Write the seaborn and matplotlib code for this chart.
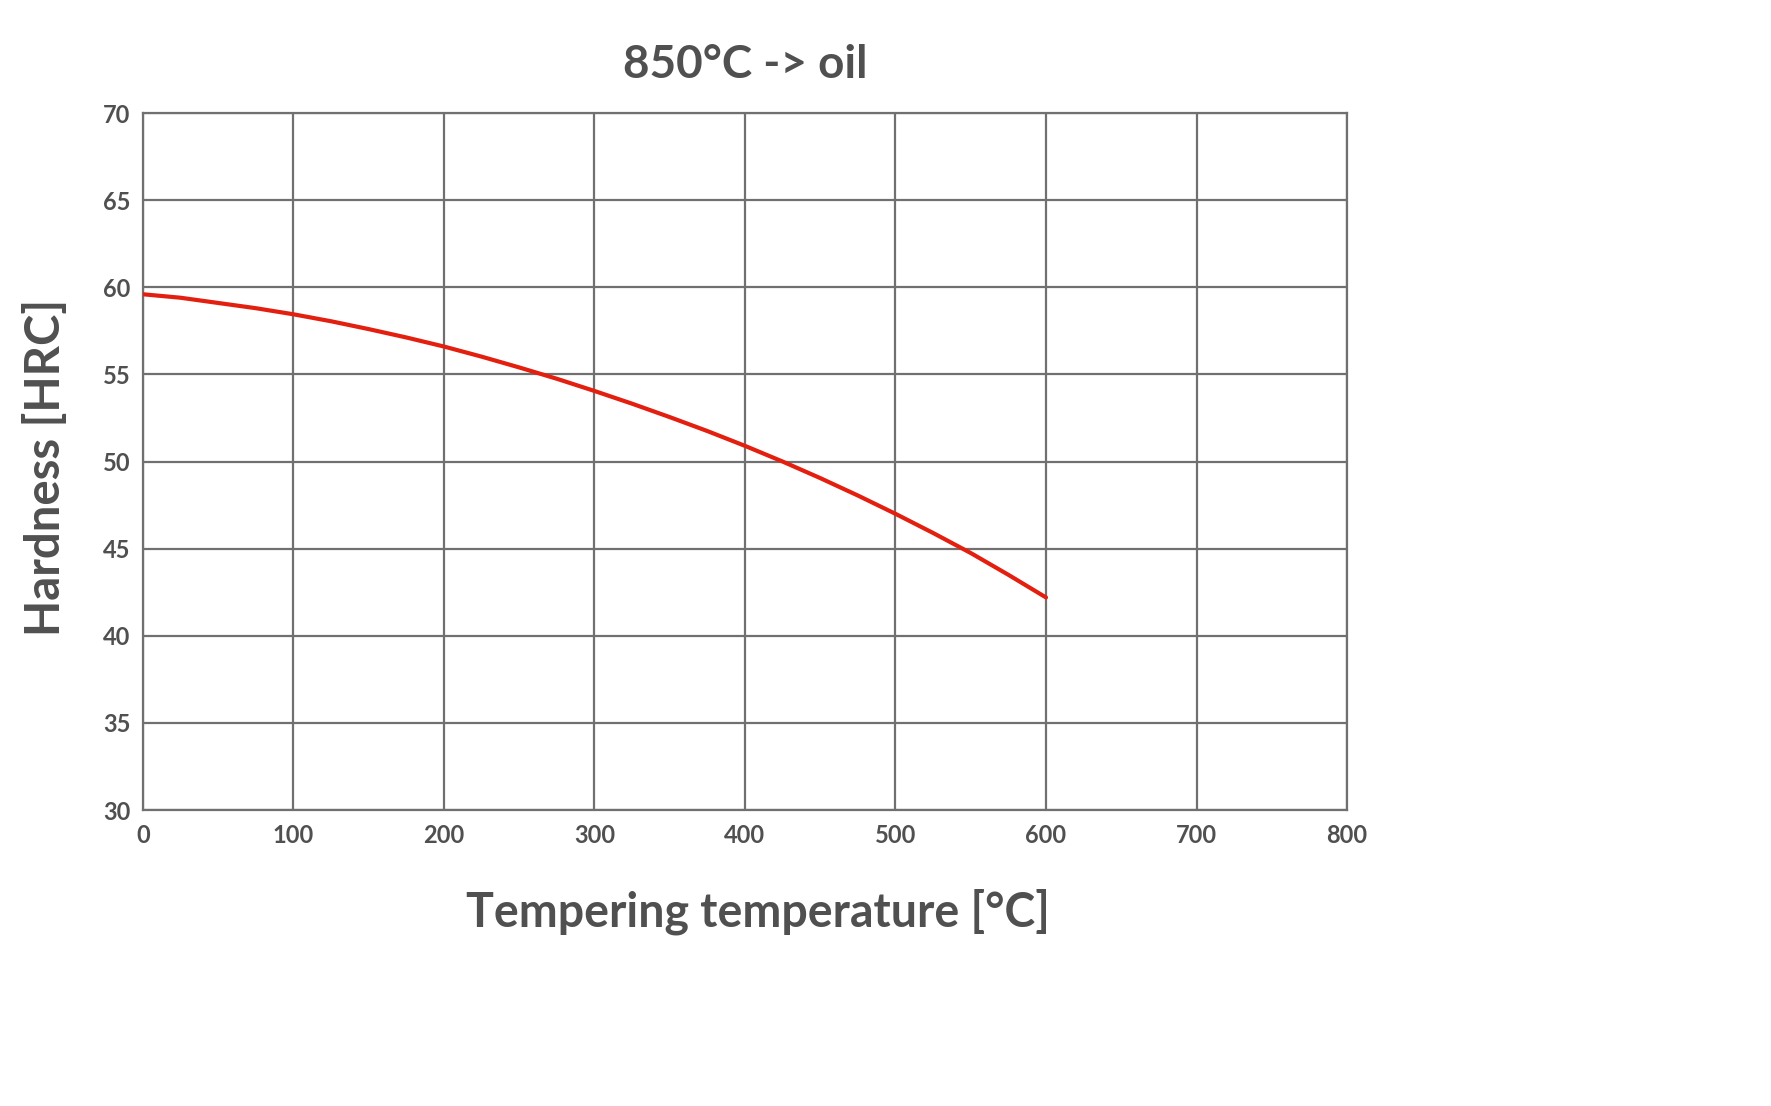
import matplotlib
matplotlib.use("Agg")
import matplotlib.pyplot as plt
import seaborn as sns
import pandas as pd

# Data
temperature = [0, 25, 50, 75, 100, 125, 150, 175, 200, 225, 250, 275, 300,
               325, 350, 375, 400, 425, 450, 475, 500, 525, 550, 575, 600]
hardness = [59.6, 59.4, 59.1, 58.8, 58.45, 58.05, 57.6, 57.12, 56.6, 56.02,
            55.4, 54.75, 54.05, 53.32, 52.55, 51.75, 50.9, 50.0, 49.05, 48.05,
            47.0, 45.9, 44.75, 43.5, 42.2]
x_ticks = [0, 100, 200, 300, 400, 500, 600, 700, 800]
y_ticks = [30, 35, 40, 45, 50, 55, 60, 65, 70]
title = "850°C -> oil"
x_label = "Tempering temperature [°C]"
y_label = "Hardness [HRC]"

df = pd.DataFrame({"temperature": temperature, "hardness": hardness})

sns.set_style("white")
plt.rcParams["font.family"] = ["Lato", "DejaVu Sans"]

text_color = "#505050"
grid_color = "#707070"

fig = plt.figure(figsize=(17.71, 11.06), dpi=100)
ax = fig.add_axes([0.0807, 0.2676, 0.6799, 0.6302])

sns.lineplot(data=df, x="temperature", y="hardness", ax=ax,
             color="#e3200f", linewidth=3.0, zorder=3)

ax.set_xlim(0, 800)
ax.set_ylim(30, 70)
ax.set_xticks(x_ticks)
ax.set_yticks(y_ticks)
ax.grid(True, color=grid_color, linewidth=1.6, zorder=0)
ax.set_axisbelow(True)
for s in ax.spines.values():
    s.set_color(grid_color)
    s.set_linewidth(1.6)

ax.tick_params(axis="both", length=0, labelsize=17, labelcolor=text_color)
ax.tick_params(axis="y", pad=9)
ax.tick_params(axis="x", pad=10)
for lab in ax.get_xticklabels() + ax.get_yticklabels():
    lab.set_fontweight("bold")

ax.set_title(title, fontsize=33, fontweight="bold", color=text_color, pad=25)
ax.set_xlabel(x_label, fontsize=33.5, fontweight="bold", color=text_color)
ax.set_ylabel(y_label, fontsize=34, fontweight="bold", color=text_color)
ax.xaxis.set_label_coords(0.511, -0.112)
ax.yaxis.set_label_coords(-0.062, 0.492)

fig.savefig("out.png", dpi=100, facecolor="white")
